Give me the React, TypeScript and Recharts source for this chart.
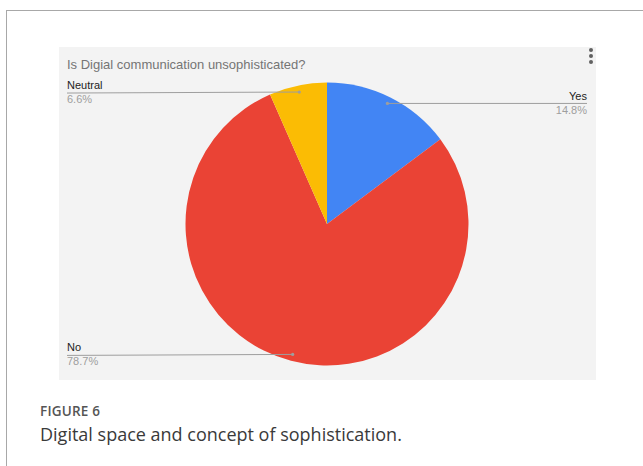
import React from 'react';
import { PieChart, Pie, Cell } from 'recharts';

// survey answers
const answers = ['Yes', 'No', 'Neutral'];
const shares = [14.8, 78.7, 6.6];
const sliceColors = ['#4285F4', '#EA4335', '#FBBC04'];

const title = 'Is Digial communication unsophisticated?';
const figureLabel = 'FIGURE 6';
const caption = 'Digital space and concept of sophistication.';

const data = answers.map((name, i) => ({ name, value: shares[i] }));

const CHART_W = 537;
const CHART_H = 333;
const RAD = Math.PI / 180;

const renderLabel = (props: any) => {
  const { cx, cy, midAngle, outerRadius, name, value } = props;
  const r = outerRadius * 0.953;
  const ax = cx + r * Math.cos(-midAngle * RAD);
  const ay = cy + r * Math.sin(-midAngle * RAD);
  const right = ax > cx;
  const ex = right ? CHART_W - 9 : 8;
  const anchor = right ? 'end' : 'start';
  return (
    <g>
      <line x1={ax} y1={ay} x2={ex} y2={ay + (right ? 0 : 1)} stroke="#9e9e9e" strokeWidth={1} />
      <circle cx={ax} cy={ay} r={1.6} fill="#9e9e9e" />
      <text x={ex} y={ay - 3} textAnchor={anchor} fontSize={11} fill="#222" fontFamily="Liberation Sans, Arial, sans-serif">
        {name}
      </text>
      <text x={ex} y={ay + 11} textAnchor={anchor} fontSize={11} fill="#9e9e9e" fontFamily="Liberation Sans, Arial, sans-serif">
        {value.toFixed(1)}%
      </text>
    </g>
  );
};

const App = () => {
  return (
    <div style={{ position: 'absolute', left: 0, top: 0, width: 643, height: 466, background: '#fff', overflow: 'hidden' }}>
      <div style={{ position: 'absolute', left: 6, top: 10, width: 700, height: 500, borderTop: '1.5px solid #a8a8a8', borderLeft: '1.5px solid #a8a8a8' }} />
      <div style={{ position: 'absolute', left: 59, top: 47, width: CHART_W, height: CHART_H, background: '#f3f3f3' }}>
        <div style={{ position: 'absolute', left: 8, top: 11, lineHeight: 1, fontFamily: 'Liberation Sans, Arial, sans-serif', fontSize: 13, color: '#757575', whiteSpace: 'nowrap' }}>
          {title}
        </div>
        {[0, 1, 2].map((i) => (
          <div key={i} style={{ position: 'absolute', left: 530, top: 0.5 + i * 6, width: 4, height: 4, borderRadius: 2, background: '#616161' }} />
        ))}
        <div style={{ position: 'absolute', left: 0, top: 0 }}>
          <PieChart width={CHART_W} height={CHART_H} margin={{ top: 0, right: 0, bottom: 0, left: 0 }}>
            <Pie
              data={data}
              dataKey="value"
              nameKey="name"
              cx={268}
              cy={177}
              outerRadius={141.5}
              startAngle={90}
              endAngle={-270}
              stroke="none"
              label={renderLabel}
              labelLine={false}
              isAnimationActive={false}
            >
              {data.map((d, i) => (
                <Cell key={d.name} fill={sliceColors[i]} />
              ))}
            </Pie>
          </PieChart>
        </div>
      </div>
      <div style={{ position: 'absolute', left: 40, top: 405, lineHeight: 1, fontFamily: 'Open Sans, sans-serif', fontSize: 13.5, fontWeight: 600, color: '#555', letterSpacing: 0.2 }}>
        {figureLabel}
      </div>
      <div style={{ position: 'absolute', left: 40, top: 425, lineHeight: 1, fontFamily: 'Open Sans, sans-serif', fontSize: 18, color: '#3a3a3a', whiteSpace: 'nowrap' }}>
        {caption}
      </div>
    </div>
  );
};

export default App;
